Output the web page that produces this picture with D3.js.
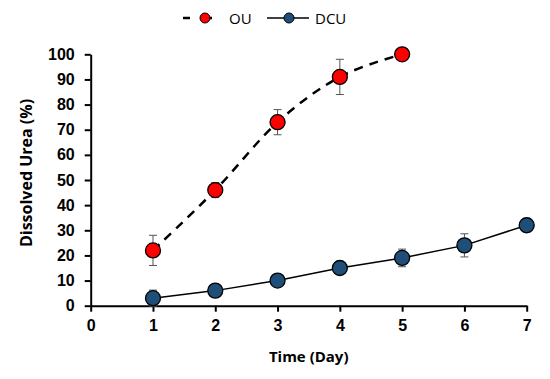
<!DOCTYPE html>
<html>
<head>
<meta charset="utf-8">
<script src="https://cdn.jsdelivr.net/npm/d3@7"></script>
<style>
  body { margin: 0; background: #fff; }
  svg { font-family: "Open Sans", "Liberation Sans", sans-serif; }
</style>
</head>
<body>
<svg id="viz" width="550" height="379"></svg>
<script>
// === DATA ===
const days = [1, 2, 3, 4, 5, 6, 7];
const ouValues = [22, 46, 73, 91, 100];
const ouErrors = [6, 3, 5, 7, 0];
const dcuValues = [3, 6, 10, 15, 19, 24, 32];
const dcuErrors = [3.2, 0.6, 1, 1, 3.5, 4.6, 2.6];
const xTicks = [0, 1, 2, 3, 4, 5, 6, 7];
const yTicks = [0, 10, 20, 30, 40, 50, 60, 70, 80, 90, 100];

const ou = ouValues.map((v, i) => ({ day: days[i], value: v, err: ouErrors[i] }));
const dcu = dcuValues.map((v, i) => ({ day: days[i], value: v, err: dcuErrors[i] }));

const svg = d3.select("#viz");

const x = d3.scaleLinear().domain([0, 7]).range([90.7, 526.7]);
const y = d3.scaleLinear().domain([0, 100]).range([305.7, 54.3]);

// axes
const xAxis = svg.append("g")
  .attr("transform", `translate(0,${y(0)})`)
  .call(d3.axisBottom(x).tickValues(xTicks).tickFormat(d3.format("d"))
    .tickSize(6).tickPadding(8).tickSizeOuter(0));
const yAxis = svg.append("g")
  .attr("transform", `translate(${x(0)},0)`)
  .call(d3.axisLeft(y).tickValues(yTicks).tickSize(6).tickPadding(10).tickSizeOuter(0));

[xAxis, yAxis].forEach(a => {
  a.select(".domain").attr("stroke", "#000").attr("stroke-width", 2);
  a.selectAll(".tick line").attr("stroke", "#000").attr("stroke-width", 2);
  a.selectAll(".tick text")
    .attr("fill", "#000")
    .style("font-size", "16px")
    .style("font-weight", "bold");
});

svg.append("text")
  .attr("x", (x(0) + x(7)) / 2)
  .attr("y", 362)
  .attr("text-anchor", "middle")
  .style("font-size", "15px")
  .style("font-weight", "bold")
  .text("Time (Day)");

svg.append("text")
  .attr("transform", "translate(32,173) rotate(-90)")
  .attr("text-anchor", "middle")
  .style("font-size", "16px")
  .style("font-weight", "bold")
  .text("Dissolved Urea (%)");

// lines
const smooth = d3.line()
  .x(d => x(d.day))
  .y(d => y(d.value))
  .curve(d3.curveCardinal.tension(0));

const straight = d3.line()
  .x(d => x(d.day))
  .y(d => y(d.value));

svg.append("path")
  .datum(ou)
  .attr("fill", "none")
  .attr("stroke", "#000")
  .attr("stroke-width", 2.5)
  .attr("stroke-dasharray", "9,7")
  .attr("d", smooth);

svg.append("path")
  .datum(dcu)
  .attr("fill", "none")
  .attr("stroke", "#000")
  .attr("stroke-width", 1.5)
  .attr("d", straight);

// error bars + markers
function drawSeries(data, fill) {
  const g = svg.append("g");
  const eb = g.selectAll(".err")
    .data(data.filter(d => d.err > 0))
    .enter().append("g");
  eb.append("line")
    .attr("x1", d => x(d.day)).attr("x2", d => x(d.day))
    .attr("y1", d => y(d.value - d.err)).attr("y2", d => y(d.value + d.err))
    .attr("stroke", "#555").attr("stroke-width", 1);
  [-1, 1].forEach(s => {
    eb.append("line")
      .attr("x1", d => x(d.day) - 4).attr("x2", d => x(d.day) + 4)
      .attr("y1", d => y(d.value + s * d.err)).attr("y2", d => y(d.value + s * d.err))
      .attr("stroke", "#555").attr("stroke-width", 1);
  });
  g.selectAll("circle")
    .data(data)
    .enter().append("circle")
    .attr("cx", d => x(d.day))
    .attr("cy", d => y(d.value))
    .attr("r", 7.5)
    .attr("fill", fill)
    .attr("stroke", "#000")
    .attr("stroke-width", 1.3);
}
drawSeries(ou, "#ff0000");
drawSeries(dcu, "#1f4e79");

// legend
const lg = svg.append("g");
lg.append("line")
  .attr("x1", 183).attr("x2", 225).attr("y1", 18).attr("y2", 18)
  .attr("stroke", "#000").attr("stroke-width", 2.5)
  .attr("stroke-dasharray", "7,15");
lg.append("circle").attr("cx", 205).attr("cy", 18).attr("r", 5)
  .attr("fill", "#ff0000").attr("stroke", "#000").attr("stroke-width", 1);
lg.append("text").attr("x", 229).attr("y", 23.5)
  .style("font-size", "15px").text("OU");

lg.append("line")
  .attr("x1", 267).attr("x2", 309).attr("y1", 18).attr("y2", 18)
  .attr("stroke", "#000").attr("stroke-width", 1.5);
lg.append("circle").attr("cx", 289).attr("cy", 18).attr("r", 5)
  .attr("fill", "#1f4e79").attr("stroke", "#000").attr("stroke-width", 1);
lg.append("text").attr("x", 315).attr("y", 23.5)
  .style("font-size", "15px").text("DCU");
</script>
</body>
</html>
